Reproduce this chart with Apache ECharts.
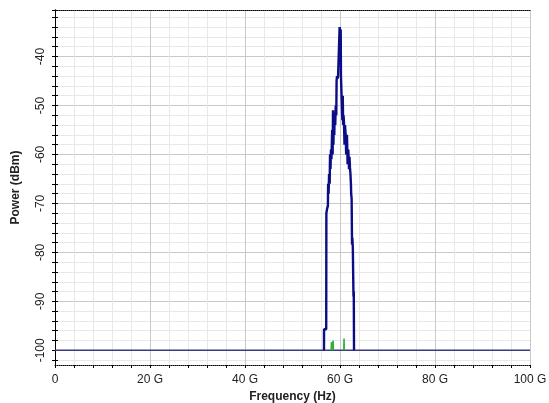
<!DOCTYPE html>
<html><head><meta charset="utf-8">
<script src="https://cdn.jsdelivr.net/npm/echarts@6/dist/echarts.min.js"></script>
<style>html,body{margin:0;padding:0;background:#fff}#c{width:549px;height:403px}</style>
</head><body><div id="c"></div>
<script>
// Frequency in GHz, power in dBm
const floorFreq = [0, 100];
const floorPower = [-100, -100];
const signalFreq = [56.63, 56.64, 57.1, 57.13, 57.3, 57.45, 57.5, 57.6, 57.7, 57.83, 57.9, 58.0, 58.1, 58.2, 58.35, 58.45, 58.53, 58.62, 58.7, 58.8, 58.88, 59.0, 59.1, 59.22, 59.28, 59.37, 59.5, 59.6, 59.75, 59.85, 59.92, 60.0, 60.08, 60.15, 60.2, 60.3, 60.42, 60.5, 60.58, 60.66, 60.75, 60.84, 60.95, 61.05, 61.2, 61.3, 61.47, 61.6, 61.75, 61.9, 62.0, 62.1, 62.2, 62.3, 62.35, 62.45, 62.53, 62.6, 62.7, 62.78, 62.84, 62.9, 62.95];
const signalPower = [-100, -95.7, -95.7, -72, -71, -70.5, -66, -68, -64, -66, -60, -63, -59, -61, -55, -60, -51, -58, -52, -56, -51.5, -54, -50, -52, -45, -44, -44.5, -44, -44.2, -43.8, -34, -33.9, -35, -34.5, -44, -43.9, -44.3, -53, -48, -54, -52, -53.5, -58, -54, -56, -60, -56, -62, -59, -63, -60.5, -62.7, -64, -66, -68, -69, -78.4, -77, -79, -85, -89, -88, -100];
const greenFreq = [58.15, 58.2, 58.25, 58.4, 58.5, 58.55, 58.6, 60.7, 60.8, 60.85, 60.9];
const greenPower = [-100, -98.3, -100, null, -100, -98, -100, null, -100, -97.6, -100];
const xTickValues = [0, 20, 40, 60, 80, 100];
const yTickValues = [-100, -90, -80, -70, -60, -50, -40];

const toPairs = (xs, ys) => xs.map((f, i) => [f, ys[i]]);

const FONT = 'Liberation Sans';
const yMin = -103, yMax = -30.5;
const L = 55, T = 10, W = 475, H = 355;
const pxPerDb = H / (yMax - yMin);
const hB = (yMax - (-102)) * pxPerDb; // grid for 2 dB minor lines
const hC = (yMax - (-100)) * pxPerDb; // grid for 10 dB major lines

const chart = echarts.init(document.getElementById('c'), null, {renderer: 'canvas'});
chart.setOption({
  backgroundColor: '#fff',
  animation: false,
  grid: [
    {left: L, top: T, width: W, height: H, containLabel: false, outerBoundsMode: 'none'},
    {left: L, top: T, width: W, height: hB, containLabel: false, outerBoundsMode: 'none'},
    {left: L, top: T, width: W, height: hC, containLabel: false, outerBoundsMode: 'none'}
  ],
  xAxis: [
    {type: 'value', gridIndex: 0, min: 0, max: 100, interval: 20, position: 'bottom',
     axisLine: {show: true, lineStyle: {color: '#000', type: 'dotted', width: 1}},
     axisTick: {show: true, length: 3, lineStyle: {color: '#000'}},
     minorTick: {show: true, splitNumber: 5, length: 3, lineStyle: {color: '#000'}},
     splitLine: {show: true, lineStyle: {color: '#c9c9c9', width: 1}},
     minorSplitLine: {show: true, lineStyle: {color: '#e8e8e8', width: 1}},
     axisLabel: {color: '#222', fontFamily: FONT, fontSize: 12, margin: 9,
       formatter: v => xTickValues.includes(v) ? (v === 0 ? '0' : v + ' G') : ''},
     name: 'Frequency (Hz)', nameLocation: 'middle', nameGap: 25,
     nameTextStyle: {color: '#222', fontFamily: FONT, fontSize: 12, fontWeight: 'bold'}},
    {type: 'value', gridIndex: 0, min: 0, max: 100, position: 'top',
     axisLine: {show: true, lineStyle: {color: '#000', type: 'dotted', width: 1}},
     axisTick: {show: false}, axisLabel: {show: false}, splitLine: {show: false}},
    {type: 'value', gridIndex: 1, min: 0, max: 100, show: false},
    {type: 'value', gridIndex: 2, min: 0, max: 100, show: false}
  ],
  yAxis: [
    {type: 'value', gridIndex: 0, min: yMin, max: yMax, position: 'left',
     axisLine: {show: true, lineStyle: {color: '#000', width: 1}},
     axisTick: {show: false}, axisLabel: {show: false}, splitLine: {show: false},
     name: 'Power (dBm)', nameLocation: 'middle', nameGap: 33,
     nameTextStyle: {color: '#222', fontFamily: FONT, fontSize: 12, fontWeight: 'bold'}},
    {type: 'value', gridIndex: 0, min: yMin, max: yMax, position: 'right',
     axisLine: {show: true, lineStyle: {color: '#000', type: 'dotted', width: 1}},
     axisTick: {show: false}, axisLabel: {show: false}, splitLine: {show: false}},
    {type: 'value', gridIndex: 1, min: -102, max: yMax, interval: 2, position: 'left',
     axisLine: {show: false},
     axisTick: {show: true, length: 3, lineStyle: {color: '#000'}},
     axisLabel: {show: false},
     splitLine: {show: true, lineStyle: {color: '#e8e8e8', width: 1}}},
    {type: 'value', gridIndex: 1, min: -102, max: yMax, interval: 2, position: 'left',
     axisLine: {show: false},
     axisTick: {show: true, inside: true, length: 3, lineStyle: {color: '#000'}},
     axisLabel: {show: false}, splitLine: {show: false}},
    {type: 'value', gridIndex: 2, min: -100, max: yMax, interval: 10, position: 'left',
     axisLine: {show: false}, axisTick: {show: false},
     axisLabel: {color: '#222', fontFamily: FONT, fontSize: 12, rotate: 90, margin: 8,
       formatter: v => yTickValues.includes(v) ? String(v) : ''},
     splitLine: {show: true, lineStyle: {color: '#c9c9c9', width: 1}}}
  ],
  series: [
    {type: 'line', xAxisIndex: 0, yAxisIndex: 0, data: toPairs(floorFreq, floorPower), symbol: 'none',
     lineStyle: {color: '#3a3a84', width: 1.4}, z: 2},
    {type: 'line', xAxisIndex: 0, yAxisIndex: 0, data: toPairs(greenFreq, greenPower), symbol: 'none',
     connectNulls: false, lineStyle: {color: '#33b03a', width: 1.6}, z: 3},
    {type: 'line', xAxisIndex: 0, yAxisIndex: 0, data: toPairs(signalFreq, signalPower), symbol: 'none',
     lineStyle: {color: '#0c0c86', width: 2.4}, z: 4}
  ]
});
</script></body></html>
